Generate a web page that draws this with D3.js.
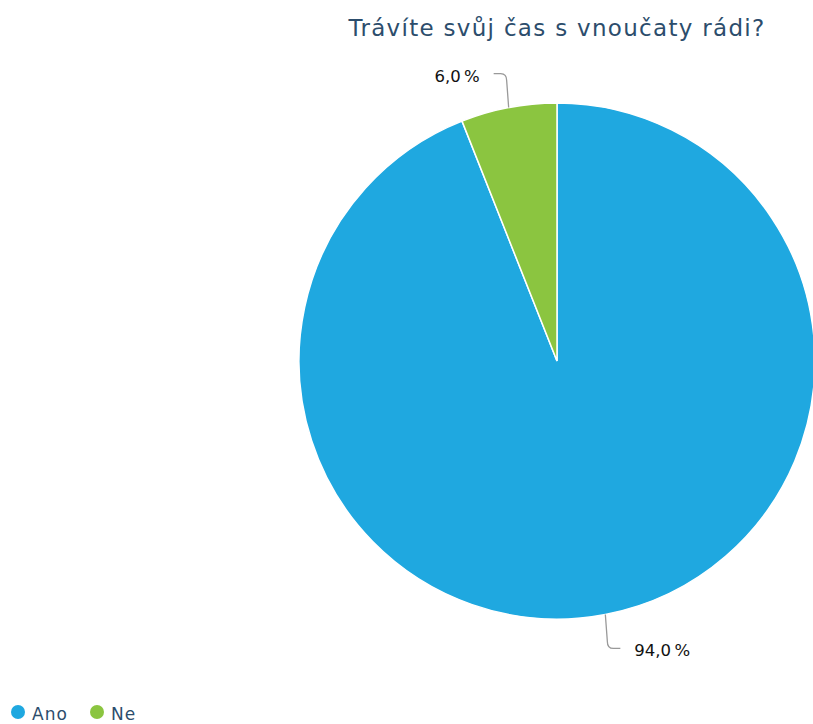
<!DOCTYPE html>
<html>
<head>
<meta charset="utf-8">
<script src="https://cdn.jsdelivr.net/npm/d3@7"></script>
<style>
  body { margin: 0; background: #fff; }
</style>
</head>
<body>
<svg id="chart"></svg>
<script>
// data
var categories = ["Ano", "Ne"];
var values = [94.0, 6.0];
var colors = ["#1fa8e0", "#8bc540"];
var title = "Trávíte svůj čas s vnoučaty rádi?";

var width = 813, height = 724;
var cx = 557, cy = 361, radius = 258;
var fontFam = "'DejaVu Sans', Verdana, sans-serif";

var svg = d3.select("#chart")
    .attr("width", width)
    .attr("height", height);

// title
svg.append("text")
    .attr("x", cx)
    .attr("y", 36)
    .attr("text-anchor", "middle")
    .attr("font-family", fontFam)
    .attr("font-size", "23px")
    .attr("fill", "#2c4d6c")
    .attr("letter-spacing", "1.3px")
    .text(title);

var pie = d3.pie().sort(null).value(function(d) { return d; });
var arcs = pie(values);
var arc = d3.arc().innerRadius(0).outerRadius(radius);

var g = svg.append("g")
    .attr("transform", "translate(" + cx + "," + cy + ")");

g.selectAll("path.slice")
    .data(arcs)
    .enter()
    .append("path")
    .attr("class", "slice")
    .attr("d", arc)
    .attr("fill", function(d, i) { return colors[i]; })
    .attr("stroke", "#fff")
    .attr("stroke-width", 1.5);

// leader lines + labels
function fmt(v) { return d3.format(".1f")(v).replace(".", ",") + "\u2009%"; }

arcs.forEach(function(d, i) {
    var a = (d.startAngle + d.endAngle) / 2;
    var px = Math.sin(a) * radius, py = -Math.cos(a) * radius;
    var dir = py < 0 ? -1 : 1;
    var side = px < 0 ? -1 : 1;
    var ey = py + dir * 34;
    var hx = px + side * 15;
    var path = d3.path();
    path.moveTo(px, py);
    path.lineTo(px + side * 2, ey - dir * 7);
    path.quadraticCurveTo(px + side * 2, ey, px + side * 8, ey);
    path.lineTo(hx, ey);
    g.append("path")
        .attr("d", path.toString())
        .attr("fill", "none")
        .attr("stroke", "#999")
        .attr("stroke-width", 1.3);
    g.append("text")
        .attr("x", hx + side * 14)
        .attr("y", ey + 8)
        .attr("text-anchor", side < 0 ? "end" : "start")
        .attr("font-family", fontFam)
        .attr("font-size", "16.5px")
        .attr("fill", "#111")
        .text(fmt(values[i]));
});

// legend
var legend = svg.append("g")
    .attr("transform", "translate(18,712)");
var items = legend.selectAll("g.item")
    .data(categories)
    .enter()
    .append("g")
    .attr("class", "item")
    .attr("transform", function(d, i) { return "translate(" + (i * 79) + ",0)"; });
items.append("circle")
    .attr("r", 7)
    .attr("fill", function(d, i) { return colors[i]; });
items.append("text")
    .attr("x", 14)
    .attr("y", 8)
    .attr("font-family", fontFam)
    .attr("font-size", "17px")
    .attr("letter-spacing", "1px")
    .attr("fill", "#2c4d6c")
    .text(function(d) { return d; });
</script>
</body>
</html>
